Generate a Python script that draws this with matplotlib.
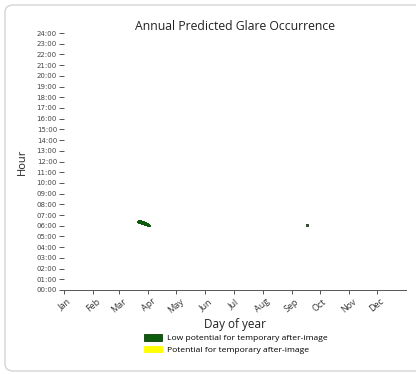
import matplotlib
matplotlib.use("Agg")
import matplotlib.pyplot as plt
from matplotlib.patches import FancyBboxPatch, Patch

# ---- data ----
month_labels = ["Jan", "Feb", "Mar", "Apr", "May", "Jun",
                "Jul", "Aug", "Sep", "Oct", "Nov", "Dec"]
month_start_days = [0, 31, 59, 90, 120, 151, 181, 212, 243, 273, 304, 334]
hour_ticks = list(range(0, 25))
hour_labels = [f"{h:02d}:00" for h in hour_ticks]

# low potential glare (day of year, start hour, duration in hours)
low_days = [79, 80, 81, 82, 83, 84, 85, 86, 87, 88, 89, 90, 91, 92, 260]
low_start = [6.22, 6.18, 6.15, 6.12, 6.09, 6.06, 6.03, 6.00, 5.97, 5.93, 5.90, 5.87, 5.86, 5.88, 5.86]
low_dur = [0.26, 0.34, 0.38, 0.40, 0.42, 0.42, 0.42, 0.42, 0.41, 0.40, 0.38, 0.35, 0.30, 0.22, 0.30]
# potential for after-image (none in this year)
high_days = []
high_start = []
high_dur = []

legend_labels = ["Low potential for temporary after-image",
                 "Potential for temporary after-image"]
low_color = "#0d5c0d"
high_color = "#ffff00"

# ---- figure ----
fig = plt.figure(figsize=(4.16, 3.74), dpi=100)
W, H = 416, 374

card = FancyBboxPatch((5 / W, 3 / H), 430 / W, 366 / H,
                      boxstyle="round,pad=0,rounding_size=0.02",
                      transform=fig.transFigure, facecolor="white",
                      edgecolor="#d4d4d4", linewidth=1.0, zorder=-5)
fig.patches.append(card)

ax = fig.add_axes([64 / W, (H - 290) / H, 342 / W, 257 / H])
ax.set_zorder(2)
ax.set_facecolor("none")

ax.bar(low_days[:-1], low_dur[:-1], bottom=low_start[:-1], width=1.4,
       color=low_color, edgecolor="none", align="center")
ax.bar(low_days[-1:], low_dur[-1:], bottom=low_start[-1:], width=3.2,
       color="#3c4a3c", edgecolor="none", align="center")
if high_days:
    ax.bar(high_days, high_dur, bottom=high_start, width=1.4,
           color=high_color, edgecolor="none")

ax.set_xlim(0, 365)
ax.set_ylim(0, 24)

ax.set_xticks(month_start_days)
ax.set_xticklabels(month_labels, rotation=40, ha="center", va="top",
                   fontsize=6.5, color="#333333", family="Open Sans")
ax.set_yticks(hour_ticks)
ax.set_yticklabels(hour_labels, fontsize=5.0, color="#444444",
                   family="DejaVu Sans")
ax.tick_params(axis="y", length=3.5, width=0.7, color="#555555", pad=1.5)
ax.tick_params(axis="x", length=3, width=0.7, color="#555555", pad=2)

for s in ["left", "top", "right"]:
    ax.spines[s].set_visible(False)
ax.spines["bottom"].set_color("#555555")
ax.spines["bottom"].set_linewidth(0.7)

ax.set_title("Annual Predicted Glare Occurrence", fontsize=8.8,
             family="Open Sans", color="#222222", pad=2)
ax.set_xlabel("Day of year", fontsize=8.5, family="Open Sans",
              color="#222222", labelpad=2)
ax.set_ylabel("Hour", fontsize=8, family="Open Sans", color="#222222",
              labelpad=6)

handles = [Patch(facecolor=low_color, edgecolor="#0a3d0a", linewidth=0.6),
           Patch(facecolor=high_color, edgecolor=high_color, linewidth=0.6)]
leg = fig.legend(handles, legend_labels, loc="center",
                 bbox_to_anchor=(236 / W, 1 - 344 / H), frameon=False,
                 prop={"family": "Open Sans", "size": 6.1},
                 handlelength=2.1, handleheight=0.8, labelspacing=0.4,
                 handletextpad=0.6)
leg.set_zorder(3)

fig.savefig("out.png", dpi=100, facecolor="white")
